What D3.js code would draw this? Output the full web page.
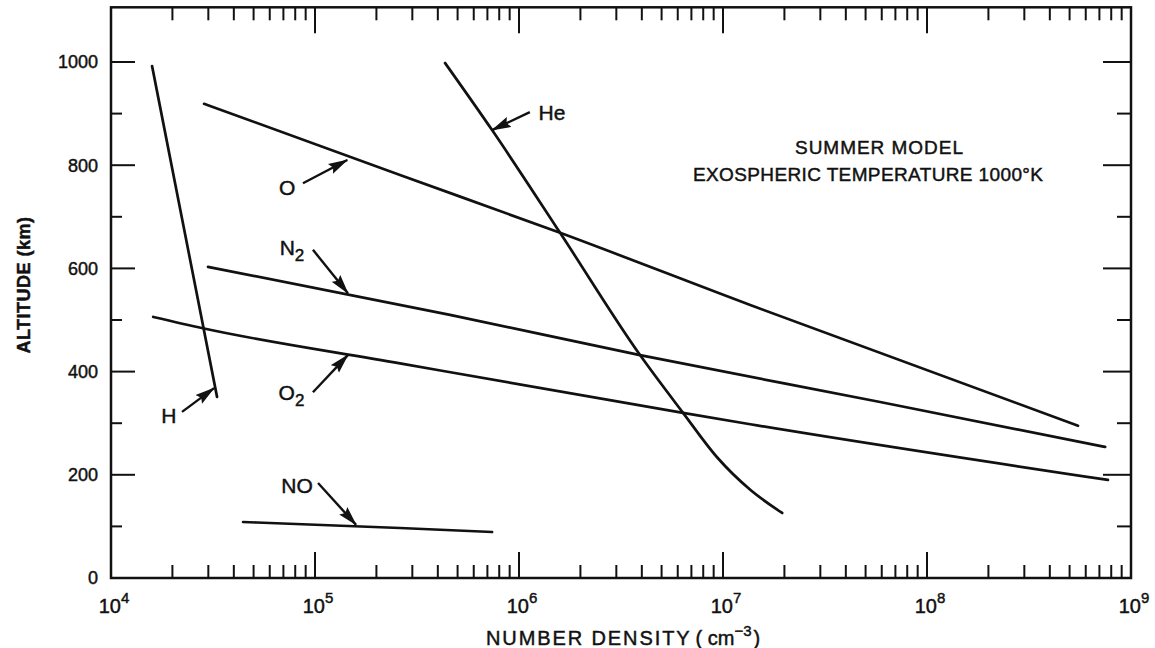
<!DOCTYPE html>
<html><head><meta charset="utf-8">
<script src="https://cdn.jsdelivr.net/npm/d3@7"></script>
<style>
body{margin:0;background:#fff}
text{font-family:"Liberation Sans","DejaVu Sans",sans-serif;fill:#111;stroke:#111;stroke-width:0.45px}
</style>
</head><body>
<svg id="c" width="1155" height="648"></svg>
<script>
// ---- data (number density cm^-3, altitude km) ----
const hDensity   = [1.59e4, 3.31e4];
const hAltitude  = [992, 351];
const heDensity  = [4.34e5, 7.38e5, 1.59e6, 3.92e6, 6.37e6, 9.35e6, 1.36e7, 1.95e7];
const heAltitude = [998, 868, 669, 432, 320, 234, 171, 126];
const oDensity   = [2.86e4, 2.61e5, 1.59e6, 1.36e7, 5.5e8];
const oAltitude  = [919, 781, 669, 529, 295];
const n2Density  = [2.99e4, 4.59e5, 3.92e6, 5.89e7, 7.47e8];
const n2Altitude = [603, 510, 432, 341, 254];
const o2Density  = [1.61e4, 2.82e4, 2.61e5, 6.37e6, 1.36e7, 7.71e8];
const o2Altitude = [506, 484, 416, 320, 298, 190];
const noDensity  = [4.44e4, 2.61e5, 7.38e5];
const noAltitude = [108.5, 96.9, 89.1];

const xDecades = [4,5,6,7,8,9];
const yMajorTicks = [0,200,400,600,800,1000];
const yMinorTicks = [100,300,500,700,900];
const yTop = 1106;

// annotation labels
const labelNames = ["O","N","O","H","NO","He"];
const labelSubs  = ["","2","2","","",""];
const labelPos   = [[7.3e4,756],[7.71e4,641],[7.67e4,360],[1.92e4,316],[8.17e4,180],[1.45e6,903]];
const arrowTail  = [[8.73e4,765],[9.77e4,636],[9.77e4,360],[2.23e4,322],[1.035e5,184],[1.13e6,903]];
const arrowTip   = [[1.44e5,810],[1.45e5,552],[1.45e5,432],[3.2e4,368],[1.59e5,103],[7.38e5,868]];

const noteLines = ["SUMMER MODEL","EXOSPHERIC TEMPERATURE 1000\u00B0K"];
const xTitle = "NUMBER DENSITY";
const yTitle = "ALTITUDE (km)";

// ---- scales ----
const svg = d3.select("#c");
const x = d3.scaleLog().domain([1e4,1e9]).range([111,1131]);
const y = d3.scaleLinear().domain([0,1000]).range([578,62]);
const x0 = x(1e4), x1 = x(1e9), yb = y(0), yt = y(yTop);

// markers
const defs = svg.append("defs");
defs.append("marker").attr("id","ah").attr("viewBox","0 0 20 12")
  .attr("markerUnits","userSpaceOnUse").attr("markerWidth",20).attr("markerHeight",12)
  .attr("refX",19).attr("refY",6).attr("orient","auto")
  .append("path").attr("d","M0,0.5 L20,6 L0,11.5 L3,6 Z").attr("fill","#111");

// frame
svg.append("rect").attr("x",x0).attr("y",yt).attr("width",x1-x0).attr("height",yb-yt)
  .attr("fill","none").attr("stroke","#111").attr("stroke-width",2.5);

// x ticks (bottom and top, inward)
const g = svg.append("g").attr("stroke","#111").attr("stroke-width",2);
xDecades.forEach((d,i)=>{
  const v = Math.pow(10,d);
  if (i>0 && i<xDecades.length-1){
    g.append("line").attr("x1",x(v)).attr("x2",x(v)).attr("y1",yb).attr("y2",yb-26);
    g.append("line").attr("x1",x(v)).attr("x2",x(v)).attr("y1",yt).attr("y2",yt+26);
  }
  if (i<xDecades.length-1){
    for (let k=2;k<=9;k++){
      const m = k*v;
      g.append("line").attr("x1",x(m)).attr("x2",x(m)).attr("y1",yb).attr("y2",yb-13);
      g.append("line").attr("x1",x(m)).attr("x2",x(m)).attr("y1",yt).attr("y2",yt+13);
    }
  }
});
// y ticks (left and right, inward)
yMajorTicks.forEach(v=>{
  if (v===0) return;
  g.append("line").attr("x1",x0).attr("x2",x0+24).attr("y1",y(v)).attr("y2",y(v));
  g.append("line").attr("x1",x1).attr("x2",x1-28).attr("y1",y(v)).attr("y2",y(v));
});
yMinorTicks.forEach(v=>{
  g.append("line").attr("x1",x0).attr("x2",x0+11).attr("y1",y(v)).attr("y2",y(v));
  g.append("line").attr("x1",x1).attr("x2",x1-14).attr("y1",y(v)).attr("y2",y(v));
});

// y tick labels
svg.selectAll(".yl").data(yMajorTicks).enter().append("text")
  .attr("x",98).attr("y",d=>y(d)).attr("dy","0.36em")
  .attr("text-anchor","end").style("font-size","18px").text(d=>d);

// x tick labels
xDecades.forEach(d=>{
  const t = svg.append("text").attr("x",x(Math.pow(10,d))+3).attr("y",613)
    .attr("text-anchor","middle").style("font-size","20px");
  t.append("tspan").text("10");
  t.append("tspan").attr("dy",-10).style("font-size","15px").text(d);
});

// axis titles
const xt = svg.append("text").attr("x",486).attr("y",645).style("font-size","20px");
xt.append("tspan").style("letter-spacing","1.9px").text(xTitle);
xt.append("tspan").attr("dx",4).text("( cm");
xt.append("tspan").attr("dy",-9).style("font-size","15px").text("\u22123");
xt.append("tspan").attr("dy",9).attr("dx",2).text(")");

svg.append("text").attr("transform","translate(30,285) rotate(-90)")
  .attr("text-anchor","middle").style("font-size","18px").style("font-weight","bold")
  .style("letter-spacing","0.5px").text(yTitle);

// data lines
const line = d3.line().x(d=>x(d[0])).y(d=>y(d[1])).curve(d3.curveMonotoneX);
const series = [
  [hDensity,hAltitude],[heDensity,heAltitude],[oDensity,oAltitude],
  [n2Density,n2Altitude],[o2Density,o2Altitude],[noDensity,noAltitude]
];
svg.append("g").selectAll("path").data(series).enter().append("path")
  .attr("d",s=>line(s[0].map((v,i)=>[v,s[1][i]])))
  .attr("fill","none").attr("stroke","#111").attr("stroke-width",2.7)
  .attr("stroke-linecap","round");

// annotations
labelNames.forEach((n,i)=>{
  svg.append("line")
    .attr("x1",x(arrowTail[i][0])).attr("y1",y(arrowTail[i][1]))
    .attr("x2",x(arrowTip[i][0])).attr("y2",y(arrowTip[i][1]))
    .attr("stroke","#111").attr("stroke-width",2.4).attr("marker-end","url(#ah)");
  const t = svg.append("text").attr("x",x(labelPos[i][0])).attr("y",y(labelPos[i][1]))
    .attr("dy","0.36em").attr("text-anchor","middle").style("font-size","21px");
  t.append("tspan").text(n);
  if (labelSubs[i]) t.append("tspan").attr("dy",6).style("font-size","17px").text(labelSubs[i]);
});

// note text
svg.append("text").attr("x",879).attr("y",154).attr("text-anchor","middle")
  .style("font-size","19px").attr("textLength",168).attr("lengthAdjust","spacing").text(noteLines[0]);
svg.append("text").attr("x",868).attr("y",181).attr("text-anchor","middle")
  .style("font-size","19px").attr("textLength",350).attr("lengthAdjust","spacing").text(noteLines[1]);
</script>
</body></html>
